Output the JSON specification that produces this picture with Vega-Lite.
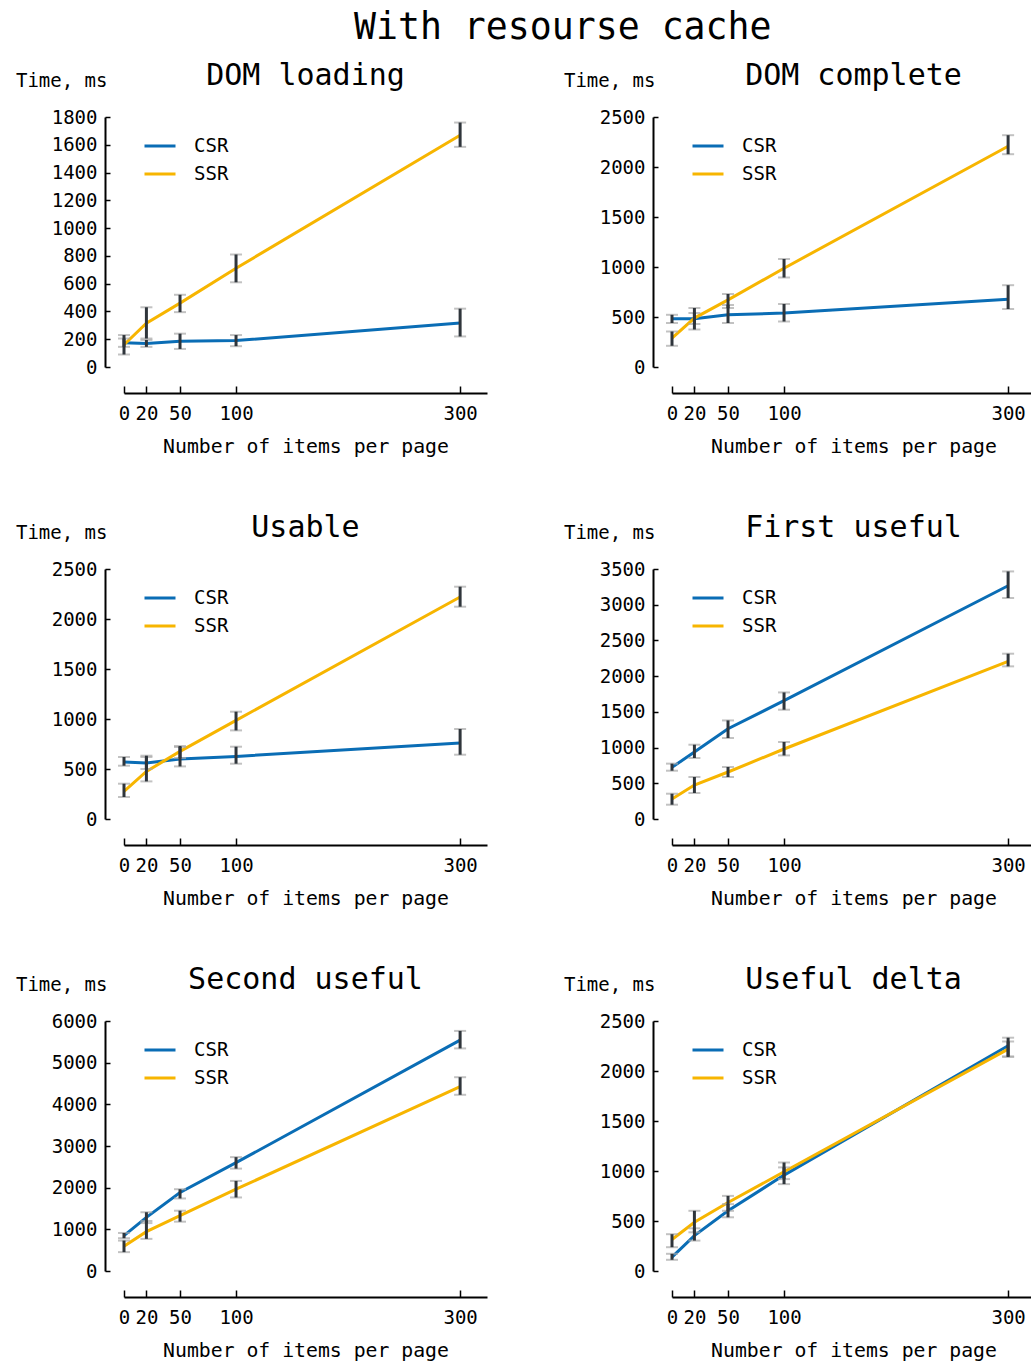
{
  "$schema": "https://vega.github.io/schema/vega-lite/v6.json",
  "autosize": {"type": "none"},
  "padding": {"left": 124, "top": 117, "right": 907, "bottom": 1247},
  "background": "white",
  "title": {"text": "With resourse cache", "fontSize": 36.5, "offset": 15, "dy": 0, "dx": 230, "anchor": "start", "frame": "group"},
  "bounds": "flush",
  "columns": 2,
  "spacing": {"row": 202, "column": 185},
  "datasets": {
    "d": [
      {"metric": "DOM loading", "series": "CSR", "n": 0, "t": 175, "lo": 145, "hi": 205},
      {"metric": "DOM loading", "series": "CSR", "n": 20, "t": 170, "lo": 145, "hi": 195},
      {"metric": "DOM loading", "series": "CSR", "n": 50, "t": 185, "lo": 130, "hi": 240},
      {"metric": "DOM loading", "series": "CSR", "n": 100, "t": 190, "lo": 150, "hi": 230},
      {"metric": "DOM loading", "series": "CSR", "n": 300, "t": 316, "lo": 220, "hi": 420},
      {"metric": "DOM loading", "series": "SSR", "n": 0, "t": 160, "lo": 90, "hi": 230},
      {"metric": "DOM loading", "series": "SSR", "n": 20, "t": 316, "lo": 205, "hi": 430},
      {"metric": "DOM loading", "series": "SSR", "n": 50, "t": 460, "lo": 395, "hi": 520},
      {"metric": "DOM loading", "series": "SSR", "n": 100, "t": 711, "lo": 610, "hi": 810},
      {"metric": "DOM loading", "series": "SSR", "n": 300, "t": 1668, "lo": 1585, "hi": 1760},

      {"metric": "DOM complete", "series": "CSR", "n": 0, "t": 482, "lo": 440, "hi": 522},
      {"metric": "DOM complete", "series": "CSR", "n": 20, "t": 482, "lo": 430, "hi": 540},
      {"metric": "DOM complete", "series": "CSR", "n": 50, "t": 522, "lo": 440, "hi": 620},
      {"metric": "DOM complete", "series": "CSR", "n": 100, "t": 539, "lo": 455, "hi": 630},
      {"metric": "DOM complete", "series": "CSR", "n": 300, "t": 678, "lo": 580, "hi": 818},
      {"metric": "DOM complete", "series": "SSR", "n": 0, "t": 289, "lo": 212, "hi": 355},
      {"metric": "DOM complete", "series": "SSR", "n": 20, "t": 489, "lo": 375, "hi": 590},
      {"metric": "DOM complete", "series": "SSR", "n": 50, "t": 671, "lo": 590, "hi": 730},
      {"metric": "DOM complete", "series": "SSR", "n": 100, "t": 988, "lo": 895, "hi": 1080},
      {"metric": "DOM complete", "series": "SSR", "n": 300, "t": 2208, "lo": 2128, "hi": 2318},

      {"metric": "Usable", "series": "CSR", "n": 0, "t": 570, "lo": 533, "hi": 620},
      {"metric": "Usable", "series": "CSR", "n": 20, "t": 560, "lo": 500, "hi": 620},
      {"metric": "Usable", "series": "CSR", "n": 50, "t": 600, "lo": 526, "hi": 720},
      {"metric": "Usable", "series": "CSR", "n": 100, "t": 626, "lo": 553, "hi": 723},
      {"metric": "Usable", "series": "CSR", "n": 300, "t": 760, "lo": 643, "hi": 900},
      {"metric": "Usable", "series": "SSR", "n": 0, "t": 276, "lo": 220, "hi": 353},
      {"metric": "Usable", "series": "SSR", "n": 20, "t": 476, "lo": 376, "hi": 633},
      {"metric": "Usable", "series": "SSR", "n": 50, "t": 676, "lo": 610, "hi": 730},
      {"metric": "Usable", "series": "SSR", "n": 100, "t": 986, "lo": 886, "hi": 1073},
      {"metric": "Usable", "series": "SSR", "n": 300, "t": 2220, "lo": 2123, "hi": 2323},

      {"metric": "First useful", "series": "CSR", "n": 0, "t": 723, "lo": 676, "hi": 775},
      {"metric": "First useful", "series": "CSR", "n": 20, "t": 938, "lo": 854, "hi": 1040},
      {"metric": "First useful", "series": "CSR", "n": 50, "t": 1264, "lo": 1134, "hi": 1380},
      {"metric": "First useful", "series": "CSR", "n": 100, "t": 1656, "lo": 1530, "hi": 1772},
      {"metric": "First useful", "series": "CSR", "n": 300, "t": 3266, "lo": 3094, "hi": 3466},
      {"metric": "First useful", "series": "SSR", "n": 0, "t": 280, "lo": 200, "hi": 354},
      {"metric": "First useful", "series": "SSR", "n": 20, "t": 476, "lo": 364, "hi": 588},
      {"metric": "First useful", "series": "SSR", "n": 50, "t": 658, "lo": 588, "hi": 728},
      {"metric": "First useful", "series": "SSR", "n": 100, "t": 980, "lo": 890, "hi": 1078},
      {"metric": "First useful", "series": "SSR", "n": 300, "t": 2207, "lo": 2137, "hi": 2314},

      {"metric": "Second useful", "series": "CSR", "n": 0, "t": 849, "lo": 787, "hi": 913},
      {"metric": "Second useful", "series": "CSR", "n": 20, "t": 1288, "lo": 1150, "hi": 1410},
      {"metric": "Second useful", "series": "CSR", "n": 50, "t": 1884, "lo": 1741, "hi": 1963},
      {"metric": "Second useful", "series": "CSR", "n": 100, "t": 2600, "lo": 2457, "hi": 2733},
      {"metric": "Second useful", "series": "CSR", "n": 300, "t": 5541, "lo": 5342, "hi": 5762},
      {"metric": "Second useful", "series": "SSR", "n": 0, "t": 596, "lo": 453, "hi": 730},
      {"metric": "Second useful", "series": "SSR", "n": 20, "t": 945, "lo": 771, "hi": 1200},
      {"metric": "Second useful", "series": "SSR", "n": 50, "t": 1328, "lo": 1184, "hi": 1447},
      {"metric": "Second useful", "series": "SSR", "n": 100, "t": 1963, "lo": 1765, "hi": 2162},
      {"metric": "Second useful", "series": "SSR", "n": 300, "t": 4427, "lo": 4229, "hi": 4651},

      {"metric": "Useful delta", "series": "CSR", "n": 0, "t": 139, "lo": 112, "hi": 172},
      {"metric": "Useful delta", "series": "CSR", "n": 20, "t": 354, "lo": 304, "hi": 427},
      {"metric": "Useful delta", "series": "CSR", "n": 50, "t": 602, "lo": 537, "hi": 669},
      {"metric": "Useful delta", "series": "CSR", "n": 100, "t": 959, "lo": 869, "hi": 1036},
      {"metric": "Useful delta", "series": "CSR", "n": 300, "t": 2252, "lo": 2141, "hi": 2333},
      {"metric": "Useful delta", "series": "SSR", "n": 0, "t": 315, "lo": 238, "hi": 368},
      {"metric": "Useful delta", "series": "SSR", "n": 20, "t": 487, "lo": 387, "hi": 602},
      {"metric": "Useful delta", "series": "SSR", "n": 50, "t": 685, "lo": 602, "hi": 751},
      {"metric": "Useful delta", "series": "SSR", "n": 100, "t": 992, "lo": 919, "hi": 1085},
      {"metric": "Useful delta", "series": "SSR", "n": 300, "t": 2219, "lo": 2146, "hi": 2295}
    ]
  },
  "data": {"name": "d"},
  "resolve": {"scale": {"color": "independent", "y": "independent", "x": "independent"}, "legend": {"color": "independent"}},
  "concat": [
    {
      "title": {"text": "DOM loading"},
      "width": 363, "height": 250,
      "transform": [{"filter": {"field": "metric", "equal": "DOM loading"}}],
      "encoding": {"x": {"field": "n", "type": "quantitative", "scale": {"domain": [0, 324], "nice": false}, "axis": {"values": [0, 20, 50, 100, 300], "title": "Number of items per page"}}},
      "layer": [
        {"mark": {"type": "line", "strokeWidth": 3},
         "encoding": {
           "y": {"field": "t", "type": "quantitative", "title": "Time, ms", "scale": {"domain": [0, 1800], "nice": false}, "axis": {"format": "d", "values": [0, 200, 400, 600, 800, 1000, 1200, 1400, 1600, 1800]}},
           "color": {"field": "series", "type": "nominal", "scale": {"domain": ["CSR", "SSR"], "range": ["#0a6db5", "#f7b500"]}, "legend": {"orient": "none", "legendX": 19, "legendY": 19, "title": null}}}},
        {"mark": {"type": "tick", "orient": "horizontal", "size": 12, "thickness": 2, "color": "#a8a8a8"}, "encoding": {"y": {"field": "lo", "type": "quantitative", "title": "Time, ms", "axis": {"format": "d", "values": [0, 200, 400, 600, 800, 1000, 1200, 1400, 1600, 1800]}}}},
        {"mark": {"type": "tick", "orient": "horizontal", "size": 12, "thickness": 2, "color": "#a8a8a8"}, "encoding": {"y": {"field": "hi", "type": "quantitative", "title": "Time, ms", "axis": {"format": "d", "values": [0, 200, 400, 600, 800, 1000, 1200, 1400, 1600, 1800]}}}},
        {"mark": {"type": "rule", "strokeWidth": 3, "color": "#2f353b"}, "encoding": {"y": {"field": "lo", "type": "quantitative", "title": "Time, ms", "axis": {"format": "d", "values": [0, 200, 400, 600, 800, 1000, 1200, 1400, 1600, 1800]}}, "y2": {"field": "hi"}}}
      ]
    },
    {
      "title": {"text": "DOM complete"},
      "width": 363, "height": 250,
      "transform": [{"filter": {"field": "metric", "equal": "DOM complete"}}],
      "encoding": {"x": {"field": "n", "type": "quantitative", "scale": {"domain": [0, 324], "nice": false}, "axis": {"values": [0, 20, 50, 100, 300], "title": "Number of items per page"}}},
      "layer": [
        {"mark": {"type": "line", "strokeWidth": 3},
         "encoding": {
           "y": {"field": "t", "type": "quantitative", "title": "Time, ms", "scale": {"domain": [0, 2500], "nice": false}, "axis": {"format": "d", "values": [0, 500, 1000, 1500, 2000, 2500]}},
           "color": {"field": "series", "type": "nominal", "scale": {"domain": ["CSR", "SSR"], "range": ["#0a6db5", "#f7b500"]}, "legend": {"orient": "none", "legendX": 19, "legendY": 19, "title": null}}}},
        {"mark": {"type": "tick", "orient": "horizontal", "size": 12, "thickness": 2, "color": "#a8a8a8"}, "encoding": {"y": {"field": "lo", "type": "quantitative", "title": "Time, ms", "axis": {"format": "d", "values": [0, 500, 1000, 1500, 2000, 2500]}}}},
        {"mark": {"type": "tick", "orient": "horizontal", "size": 12, "thickness": 2, "color": "#a8a8a8"}, "encoding": {"y": {"field": "hi", "type": "quantitative", "title": "Time, ms", "axis": {"format": "d", "values": [0, 500, 1000, 1500, 2000, 2500]}}}},
        {"mark": {"type": "rule", "strokeWidth": 3, "color": "#2f353b"}, "encoding": {"y": {"field": "lo", "type": "quantitative", "title": "Time, ms", "axis": {"format": "d", "values": [0, 500, 1000, 1500, 2000, 2500]}}, "y2": {"field": "hi"}}}
      ]
    },
    {
      "title": {"text": "Usable"},
      "width": 363, "height": 250,
      "transform": [{"filter": {"field": "metric", "equal": "Usable"}}],
      "encoding": {"x": {"field": "n", "type": "quantitative", "scale": {"domain": [0, 324], "nice": false}, "axis": {"values": [0, 20, 50, 100, 300], "title": "Number of items per page"}}},
      "layer": [
        {"mark": {"type": "line", "strokeWidth": 3},
         "encoding": {
           "y": {"field": "t", "type": "quantitative", "title": "Time, ms", "scale": {"domain": [0, 2500], "nice": false}, "axis": {"format": "d", "values": [0, 500, 1000, 1500, 2000, 2500]}},
           "color": {"field": "series", "type": "nominal", "scale": {"domain": ["CSR", "SSR"], "range": ["#0a6db5", "#f7b500"]}, "legend": {"orient": "none", "legendX": 19, "legendY": 19, "title": null}}}},
        {"mark": {"type": "tick", "orient": "horizontal", "size": 12, "thickness": 2, "color": "#a8a8a8"}, "encoding": {"y": {"field": "lo", "type": "quantitative", "title": "Time, ms", "axis": {"format": "d", "values": [0, 500, 1000, 1500, 2000, 2500]}}}},
        {"mark": {"type": "tick", "orient": "horizontal", "size": 12, "thickness": 2, "color": "#a8a8a8"}, "encoding": {"y": {"field": "hi", "type": "quantitative", "title": "Time, ms", "axis": {"format": "d", "values": [0, 500, 1000, 1500, 2000, 2500]}}}},
        {"mark": {"type": "rule", "strokeWidth": 3, "color": "#2f353b"}, "encoding": {"y": {"field": "lo", "type": "quantitative", "title": "Time, ms", "axis": {"format": "d", "values": [0, 500, 1000, 1500, 2000, 2500]}}, "y2": {"field": "hi"}}}
      ]
    },
    {
      "title": {"text": "First useful"},
      "width": 363, "height": 250,
      "transform": [{"filter": {"field": "metric", "equal": "First useful"}}],
      "encoding": {"x": {"field": "n", "type": "quantitative", "scale": {"domain": [0, 324], "nice": false}, "axis": {"values": [0, 20, 50, 100, 300], "title": "Number of items per page"}}},
      "layer": [
        {"mark": {"type": "line", "strokeWidth": 3},
         "encoding": {
           "y": {"field": "t", "type": "quantitative", "title": "Time, ms", "scale": {"domain": [0, 3500], "nice": false}, "axis": {"format": "d", "values": [0, 500, 1000, 1500, 2000, 2500, 3000, 3500]}},
           "color": {"field": "series", "type": "nominal", "scale": {"domain": ["CSR", "SSR"], "range": ["#0a6db5", "#f7b500"]}, "legend": {"orient": "none", "legendX": 19, "legendY": 19, "title": null}}}},
        {"mark": {"type": "tick", "orient": "horizontal", "size": 12, "thickness": 2, "color": "#a8a8a8"}, "encoding": {"y": {"field": "lo", "type": "quantitative", "title": "Time, ms", "axis": {"format": "d", "values": [0, 500, 1000, 1500, 2000, 2500, 3000, 3500]}}}},
        {"mark": {"type": "tick", "orient": "horizontal", "size": 12, "thickness": 2, "color": "#a8a8a8"}, "encoding": {"y": {"field": "hi", "type": "quantitative", "title": "Time, ms", "axis": {"format": "d", "values": [0, 500, 1000, 1500, 2000, 2500, 3000, 3500]}}}},
        {"mark": {"type": "rule", "strokeWidth": 3, "color": "#2f353b"}, "encoding": {"y": {"field": "lo", "type": "quantitative", "title": "Time, ms", "axis": {"format": "d", "values": [0, 500, 1000, 1500, 2000, 2500, 3000, 3500]}}, "y2": {"field": "hi"}}}
      ]
    },
    {
      "title": {"text": "Second useful"},
      "width": 363, "height": 250,
      "transform": [{"filter": {"field": "metric", "equal": "Second useful"}}],
      "encoding": {"x": {"field": "n", "type": "quantitative", "scale": {"domain": [0, 324], "nice": false}, "axis": {"values": [0, 20, 50, 100, 300], "title": "Number of items per page"}}},
      "layer": [
        {"mark": {"type": "line", "strokeWidth": 3},
         "encoding": {
           "y": {"field": "t", "type": "quantitative", "title": "Time, ms", "scale": {"domain": [0, 6000], "nice": false}, "axis": {"format": "d", "values": [0, 1000, 2000, 3000, 4000, 5000, 6000]}},
           "color": {"field": "series", "type": "nominal", "scale": {"domain": ["CSR", "SSR"], "range": ["#0a6db5", "#f7b500"]}, "legend": {"orient": "none", "legendX": 19, "legendY": 19, "title": null}}}},
        {"mark": {"type": "tick", "orient": "horizontal", "size": 12, "thickness": 2, "color": "#a8a8a8"}, "encoding": {"y": {"field": "lo", "type": "quantitative", "title": "Time, ms", "axis": {"format": "d", "values": [0, 1000, 2000, 3000, 4000, 5000, 6000]}}}},
        {"mark": {"type": "tick", "orient": "horizontal", "size": 12, "thickness": 2, "color": "#a8a8a8"}, "encoding": {"y": {"field": "hi", "type": "quantitative", "title": "Time, ms", "axis": {"format": "d", "values": [0, 1000, 2000, 3000, 4000, 5000, 6000]}}}},
        {"mark": {"type": "rule", "strokeWidth": 3, "color": "#2f353b"}, "encoding": {"y": {"field": "lo", "type": "quantitative", "title": "Time, ms", "axis": {"format": "d", "values": [0, 1000, 2000, 3000, 4000, 5000, 6000]}}, "y2": {"field": "hi"}}}
      ]
    },
    {
      "title": {"text": "Useful delta"},
      "width": 363, "height": 250,
      "transform": [{"filter": {"field": "metric", "equal": "Useful delta"}}],
      "encoding": {"x": {"field": "n", "type": "quantitative", "scale": {"domain": [0, 324], "nice": false}, "axis": {"values": [0, 20, 50, 100, 300], "title": "Number of items per page"}}},
      "layer": [
        {"mark": {"type": "line", "strokeWidth": 3},
         "encoding": {
           "y": {"field": "t", "type": "quantitative", "title": "Time, ms", "scale": {"domain": [0, 2500], "nice": false}, "axis": {"format": "d", "values": [0, 500, 1000, 1500, 2000, 2500]}},
           "color": {"field": "series", "type": "nominal", "scale": {"domain": ["CSR", "SSR"], "range": ["#0a6db5", "#f7b500"]}, "legend": {"orient": "none", "legendX": 19, "legendY": 19, "title": null}}}},
        {"mark": {"type": "tick", "orient": "horizontal", "size": 12, "thickness": 2, "color": "#a8a8a8"}, "encoding": {"y": {"field": "lo", "type": "quantitative", "title": "Time, ms", "axis": {"format": "d", "values": [0, 500, 1000, 1500, 2000, 2500]}}}},
        {"mark": {"type": "tick", "orient": "horizontal", "size": 12, "thickness": 2, "color": "#a8a8a8"}, "encoding": {"y": {"field": "hi", "type": "quantitative", "title": "Time, ms", "axis": {"format": "d", "values": [0, 500, 1000, 1500, 2000, 2500]}}}},
        {"mark": {"type": "rule", "strokeWidth": 3, "color": "#2f353b"}, "encoding": {"y": {"field": "lo", "type": "quantitative", "title": "Time, ms", "axis": {"format": "d", "values": [0, 500, 1000, 1500, 2000, 2500]}}, "y2": {"field": "hi"}}}
      ]
    }
  ],
  "config": {
    "font": "DejaVu Sans Mono",
    "view": {"stroke": null},
    "title": {"font": "DejaVu Sans Mono", "fontSize": 30, "fontWeight": "normal", "color": "#000000", "anchor": "middle", "frame": "group", "offset": 0, "dy": 24},
    "axis": {
      "grid": false,
      "domainColor": "#000000", "domainWidth": 2,
      "tickColor": "#000000", "tickWidth": 1.5,
      "labelFont": "DejaVu Sans Mono", "labelFontSize": 19, "labelColor": "#000000", "labelFlush": false, "labelOverlap": false,
      "titleFont": "DejaVu Sans Mono", "titleFontSize": 19, "titleFontWeight": "normal", "titleColor": "#000000"
    },
    "axisX": {"offset": 26, "tickSize": -7, "labelPadding": 18, "titleBaseline": "alphabetic", "titleY": 59, "titleAnchor": "middle", "titleFontSize": 19.8},
    "axisY": {"offset": 19, "tickSize": -5, "labelPadding": 13, "titleAngle": 0, "titleAlign": "right", "titleBaseline": "alphabetic", "titleX": 2, "titleY": -31, "titleAnchor": "start"},
    "legend": {"labelFont": "DejaVu Sans Mono", "labelFontSize": 19, "labelColor": "#000000", "symbolType": "stroke", "symbolSize": 961, "symbolStrokeWidth": 3, "labelOffset": 17, "clipHeight": 20, "rowPadding": 8, "padding": 0}
  }
}
